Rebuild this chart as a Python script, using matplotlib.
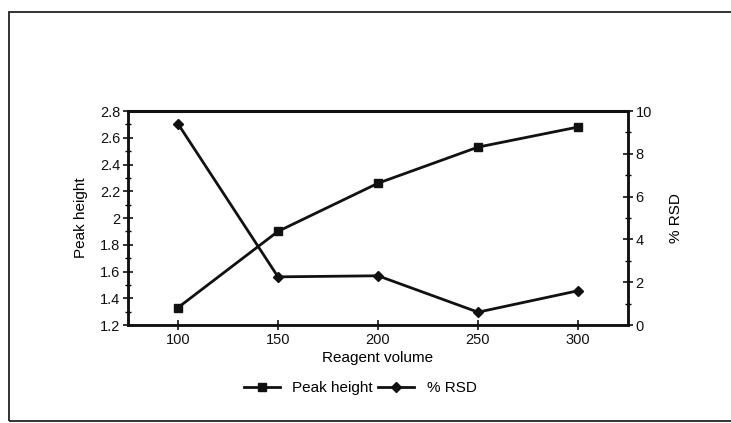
import matplotlib.pyplot as plt
from matplotlib.patches import Rectangle

plt.rcParams['font.family'] = ['Liberation Sans', 'DejaVu Sans']

volume = [100, 150, 200, 250, 300]
peak_height = [1.33, 1.90, 2.26, 2.53, 2.68]
rsd = [9.4, 2.25, 2.3, 0.6, 1.6]

fig = plt.figure(figsize=(7.31, 4.23), dpi=100)
W, H = 731, 423

# outer frame of the figure box
fig.patches.append(Rectangle((9 / W, 2 / H), 740 / W, (H - 14) / H,
                             transform=fig.transFigure, fill=False,
                             edgecolor='#222222', linewidth=1.3))

ax = fig.add_axes([128 / W, 1 - 325 / H, 500 / W, 214 / H])
ax2 = ax.twinx()

l1, = ax.plot(volume, peak_height, color='#111111', lw=2.0, marker='s',
              markersize=6, label='Peak height')
l2, = ax2.plot(volume, rsd, color='#111111', lw=2.0, marker='D',
               markersize=5, label='% RSD')

ax.set_xlim(75, 325)
ax.set_ylim(1.2, 2.8)
ax2.set_ylim(0, 10)
ax.set_xticks(volume)
ax.set_yticks([1.2, 1.4, 1.6, 1.8, 2.0, 2.2, 2.4, 2.6, 2.8])
ax.set_yticklabels(['1.2', '1.4', '1.6', '1.8', '2', '2.2', '2.4', '2.6', '2.8'])
ax.set_yticks([1.3, 1.5, 1.7, 1.9, 2.1, 2.3, 2.5, 2.7], minor=True)
ax2.set_yticks([0, 2, 4, 6, 8, 10])
ax2.set_yticks([1, 3, 5, 7, 9], minor=True)

for a in (ax, ax2):
    for s in a.spines.values():
        s.set_linewidth(1.8)
        s.set_color('#111111')
    a.tick_params(which='major', direction='inout', length=7, width=1.2,
                  labelsize=10.5, colors='#111111', pad=2)
    a.tick_params(which='minor', direction='inout', length=5, width=1.0)
ax.spines['top'].set_linewidth(2.2)

ax.set_xlabel('Reagent volume', fontsize=11, labelpad=3)
ax.set_ylabel('Peak height', fontsize=11, labelpad=9)
ax2.set_ylabel('% RSD', fontsize=11, labelpad=12)

fig.legend(handles=[l1, l2], loc='center', bbox_to_anchor=(360 / W, 1 - 388 / H),
           ncol=2, frameon=False, fontsize=11, handlelength=2.4,
           columnspacing=0.3, handletextpad=0.8)

fig.savefig('out.png', dpi=100)
